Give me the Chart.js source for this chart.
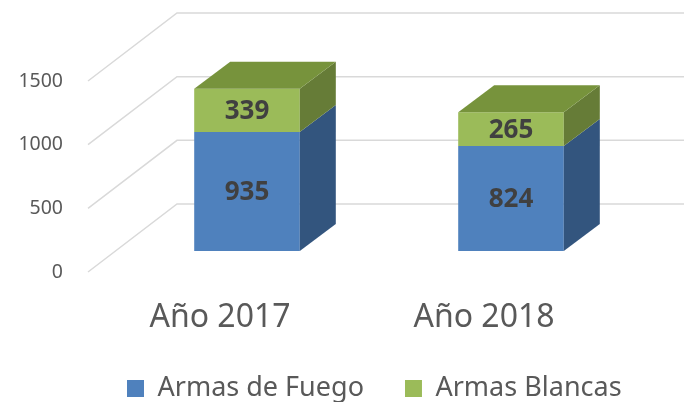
<!DOCTYPE html>
<html>
<head>
<meta charset="utf-8">
<title>Armas 2017-2018</title>
<script src="https://cdn.jsdelivr.net/npm/chart.js@4.4.1/dist/chart.umd.min.js"></script>
<style>
  html, body { margin: 0; padding: 0; background: #fff; }
  #wrap { width: 684px; height: 402px; }
</style>
</head>
<body>
<div id="wrap"><canvas id="chart" width="684" height="402"></canvas></div>
<script>
// data
const years = ["Año 2017", "Año 2018"];
const fuego = [935, 824];
const blancas = [339, 265];
const yTicks = [0, 500, 1000, 1500];

// fake 3d: depth of the walls, and where the bars sit inside it
const WALL_DX = 89, WALL_DY = -68;
const BAR_DX = 27, BAR_DY = -21;
const DEPTH_DX = 36, DEPTH_DY = -27;

const sideColors = ["#33557e", "#667c37"];
const topColors = ["#3e6596", "#77933c"];

Chart.defaults.font.family = "'Noto Sans', sans-serif";
Chart.defaults.color = "#595959";

const box3d = {
  id: "box3d",
  afterLayout(chart) {
    // push the legend to the right like the original
    chart.legend.left = 86;
    chart.legend.right = 684;
  },
  beforeDatasetsDraw(chart) {
    const { ctx, chartArea, scales: { y } } = chart;
    ctx.save();
    ctx.strokeStyle = "#d9d9d9";
    ctx.lineWidth = 1.5;
    yTicks.forEach(function (v) {
      const py = y.getPixelForValue(v);
      ctx.beginPath();
      ctx.moveTo(chartArea.left, py);
      ctx.lineTo(chartArea.left + WALL_DX, py + WALL_DY);
      ctx.lineTo(chart.width, py + WALL_DY);
      ctx.stroke();
    });
    ctx.restore();
    ctx.save();
    ctx.translate(BAR_DX, BAR_DY);
  },
  afterDatasetsDraw(chart) {
    const ctx = chart.ctx;
    const last = chart.data.datasets.length - 1;
    chart.data.datasets.forEach(function (ds, i) {
      chart.getDatasetMeta(i).data.forEach(function (bar) {
        const p = bar.getProps(["x", "y", "base", "width"], true);
        const l = p.x - p.width / 2, r = p.x + p.width / 2;
        ctx.fillStyle = sideColors[i];
        ctx.beginPath();
        ctx.moveTo(r, p.y);
        ctx.lineTo(r + DEPTH_DX, p.y + DEPTH_DY);
        ctx.lineTo(r + DEPTH_DX, p.base + DEPTH_DY);
        ctx.lineTo(r, p.base);
        ctx.closePath();
        ctx.fill();
        if (i === last) {
          ctx.fillStyle = topColors[i];
          ctx.beginPath();
          ctx.moveTo(l, p.y);
          ctx.lineTo(l + DEPTH_DX, p.y + DEPTH_DY);
          ctx.lineTo(r + DEPTH_DX, p.y + DEPTH_DY);
          ctx.lineTo(r, p.y);
          ctx.closePath();
          ctx.fill();
        }
      });
    });
    // value labels on the front faces
    ctx.fillStyle = "#404040";
    ctx.font = "bold 26px 'Noto Sans', sans-serif";
    ctx.textAlign = "center";
    ctx.textBaseline = "middle";
    chart.data.datasets.forEach(function (ds, i) {
      chart.getDatasetMeta(i).data.forEach(function (bar, j) {
        const p = bar.getProps(["x", "y", "base"], true);
        ctx.fillText(ds.data[j], p.x, (p.y + p.base) / 2 + 1);
      });
    });
    ctx.restore();
  }
};

new Chart(document.getElementById("chart"), {
  type: "bar",
  data: {
    labels: years,
    datasets: [
      {
        label: "Armas de Fuego",
        data: fuego,
        backgroundColor: "#4f81bd",
        borderWidth: 0,
        clip: false,
      },
      {
        label: "Armas Blancas",
        data: blancas,
        backgroundColor: "#9bbb59",
        borderWidth: 0,
        clip: false,
      },
    ],
  },
  options: {
    responsive: false,
    animation: false,
    events: [],
    layout: { padding: { top: 81, right: 68, left: 0, bottom: 0 } },
    datasets: { bar: { categoryPercentage: 1, barPercentage: 0.4 } },
    plugins: {
      legend: {
        position: "bottom",
        align: "start",
        maxHeight: 68,
        labels: {
          boxWidth: 17,
          boxHeight: 17,
          padding: 41,
          color: "#595959",
          font: { size: 27 },
        },
      },
      tooltip: { enabled: false },
    },
    scales: {
      x: {
        stacked: true,
        grid: { display: false, drawTicks: false },
        border: { display: false },
        ticks: { padding: 27, color: "#595959", font: { size: 32 } },
        afterFit: function (scale) { scale.height = 62; },
      },
      y: {
        stacked: true,
        min: 0,
        max: 1500,
        grid: { display: false, drawTicks: false, tickLength: 0 },
        border: { display: false },
        ticks: {
          stepSize: 500,
          padding: 25,
          color: "#595959",
          font: { size: 19.5 },
          callback: function (v) { return String(v); },
        },
        afterFit: function (scale) { scale.width = 88; },
      },
    },
  },
  plugins: [box3d],
});
</script>
</body>
</html>
